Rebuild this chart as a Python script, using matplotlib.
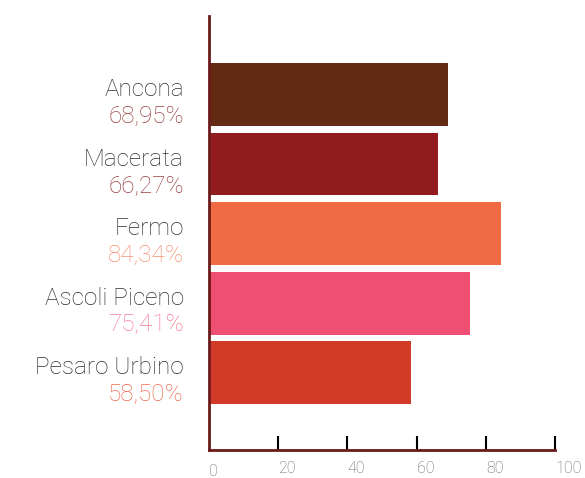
import matplotlib.pyplot as plt
import matplotlib.transforms as mtransforms

provinces = ['Ancona', 'Macerata', 'Fermo', 'Ascoli Piceno', 'Pesaro Urbino']
values = [68.95, 66.27, 84.34, 75.41, 58.50]
bar_colors = ['#642b14', '#921b20', '#f06b44', '#ef4f73', '#d23a28']
pct_colors = ['#9a4242', '#9a3e3e', '#f59070', '#f47a95', '#ee6a50']
xticks = [0, 20, 40, 60, 80, 100]

plt.rcParams['font.family'] = ['Roboto', 'DejaVu Sans']

fig = plt.figure(figsize=(5.85, 4.78), dpi=100)
ax = fig.add_axes([0.357, 0.0586, 0.592, 0.908])

ypos = list(range(len(provinces)))
ax.barh(ypos, values, height=0.9, color=bar_colors)
ax.set_ylim(4 + 1.11, -1.13)
ax.set_xlim(0, 100)

for s in ['top', 'right']:
    ax.spines[s].set_visible(False)
ax.spines['left'].set_color('#6b1a1a')
ax.spines['left'].set_linewidth(2)
ax.spines['bottom'].set_color('#6b1a1a')
ax.spines['bottom'].set_linewidth(2)

ax.set_yticks([])
ax.set_xticks(xticks)
ax.set_xticklabels([str(t) for t in xticks], fontweight='light')
ax.tick_params(axis='x', direction='in', length=10, width=1.5, color='black',
               labelcolor='#666666', labelsize=11.5, pad=8)
for i, lab in enumerate(ax.get_xticklabels()):
    lab.set_horizontalalignment('left')
    dy = -0.025 if i == 0 else 0
    lab.set_transform(lab.get_transform() +
                      mtransforms.ScaledTranslation(0, dy, fig.dpi_scale_trans))
ax.xaxis.get_major_ticks()[0].tick1line.set_visible(False)

# province name and percentage to the left of the axis
for i, (name, v) in enumerate(zip(provinces, values)):
    pct = f'{v:.2f}'.replace('.', ',') + '%'
    ax.annotate(name, xy=(0, i), xycoords=('axes fraction', 'data'),
                xytext=(-18, -1), textcoords='offset points', ha='right',
                va='baseline', fontsize=17.5, fontweight='light', color='#2e2e2e')
    ax.annotate(pct, xy=(0, i), xycoords=('axes fraction', 'data'),
                xytext=(-18, -20), textcoords='offset points', ha='right',
                va='baseline', fontsize=17.5, fontweight='light', color=pct_colors[i])

fig.savefig('out.png', dpi=100, facecolor='white')
